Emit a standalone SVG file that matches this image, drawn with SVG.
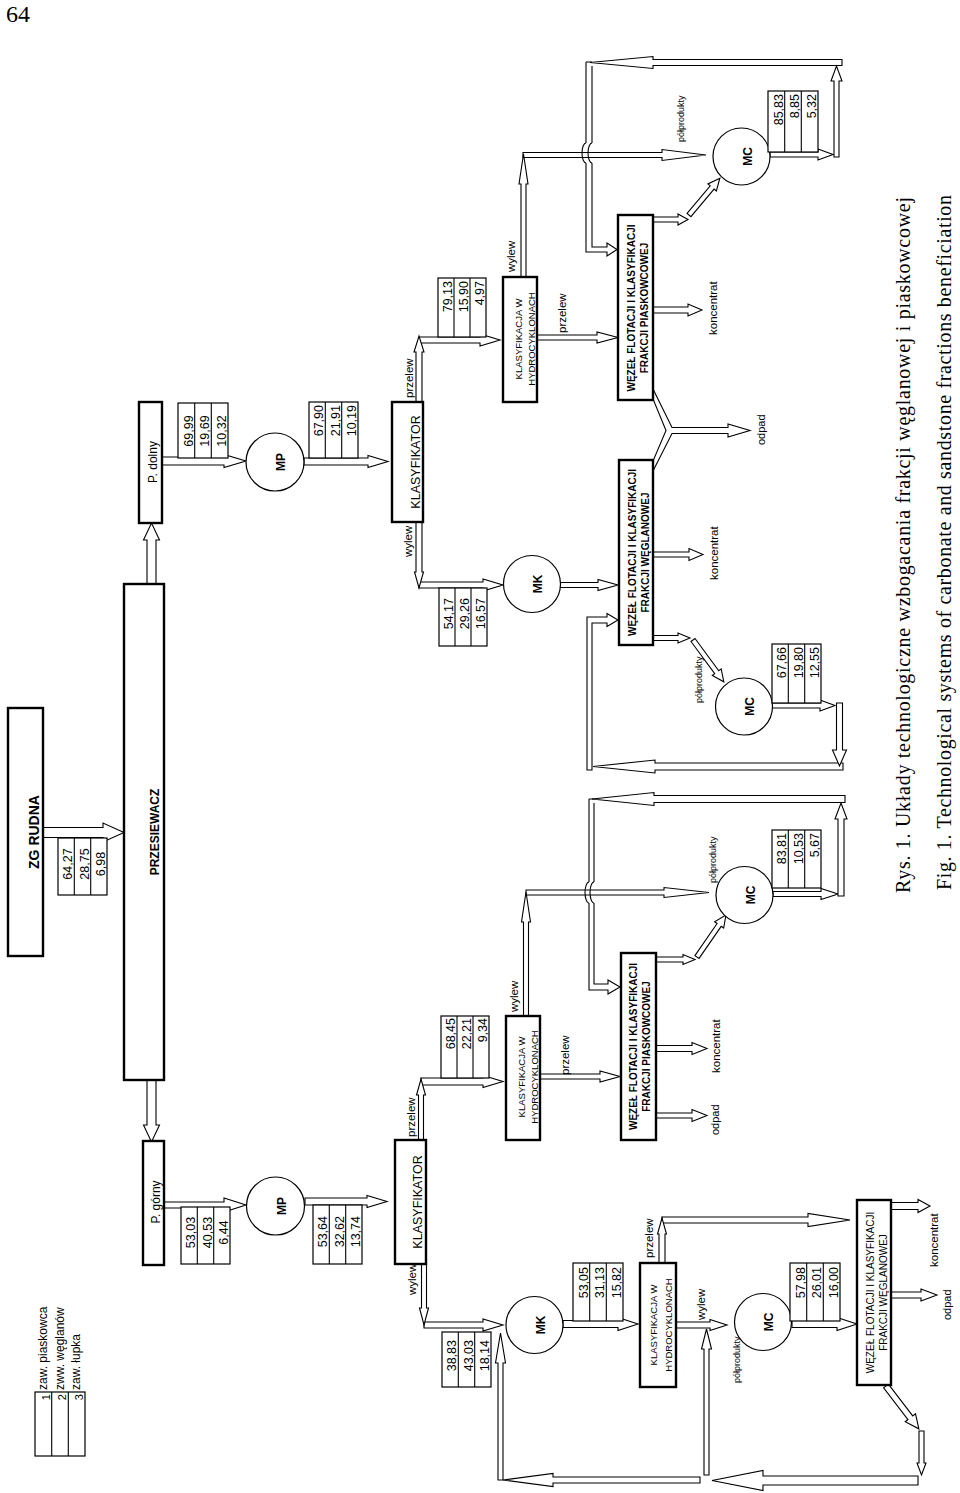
<svg xmlns="http://www.w3.org/2000/svg" width="960" height="1493" viewBox="0 0 960 1493">
<style>
text{font-family:"Liberation Sans",Arial,Helvetica,sans-serif;fill:#000}
.bx{fill:#fff;stroke:#000;stroke-width:2.4}
.tb{fill:#fff;stroke:#000;stroke-width:1.2}
.ci{fill:#fff;stroke:#000;stroke-width:1.2}
.ar{fill:#fff;stroke:#000;stroke-width:1.1;stroke-linejoin:miter}
.pl{fill:none;stroke:#000;stroke-width:1.1}
.num{font-size:12.5px}
.lbl{font-size:11.5px}
.sm{font-size:9px}
.bt{font-size:10px;font-weight:bold}
.rt{font-size:10px}
.hy{font-size:9.5px}
.cl{font-size:12px;font-weight:bold}
.cap{font-family:"Liberation Serif","Times New Roman",serif;font-size:20px}
</style>
<rect width="960" height="1493" fill="#fff"/>
<text x="6" y="22" class="cap" style="font-size:24px">64</text>

<g id="connectors">
<polygon class="ar" points="43,827.5 103,827.5 103,823 124,832.5 103,842 103,837.5 43,837.5"/>
<polygon class="ar" points="147,584 147,540 143.5,540 151.5,523 159.5,540 156,540 156,584"/>
<polygon class="ar" points="147,1080 147,1125 143.5,1125 151.5,1142 159.5,1125 156,1125 156,1080"/>
<polygon class="ar" points="162,457 224,457 224,454.5 246,461 224,467.5 224,465 162,465"/>
<polygon class="ar" points="304,458 368,458 368,455.5 388,461.5 368,467.5 368,465 304,465"/>
<polygon class="ar" points="419,337 480,337 480,334 500,340 480,346 480,343 419,343"/>
<polygon class="ar" points="416,402 416,352 414,352 419,336 424,352 422,352 422,402"/>
<polygon class="ar" points="537,335 597,335 597,332 618,337.5 597,343 597,340 537,340"/>
<polygon class="ar" points="523,152.5 662,152.5 662,149.5 706,155 662,160.5 662,157.5 523,157.5"/>
<polygon class="ar" points="521,277 521,184 519,184 523.5,154 528,184 526,184 526,277"/>
<polygon class="ar" points="770,152 818,152 818,149 833,154.5 818,160 818,157 770,157"/>
<polygon class="ar" points="842,59.5 653,59.5 653,56.5 590,62.5 653,68.5 653,65.5 842,65.5"/>
<polygon class="ar" points="834,157 834,81 831,81 836.5,66 842,81 839,81 839,157"/>
<path class="pl" d="M586,62 H592 M586,62 V143 M586,163 V252 H607 V256 L617,249.5 L607,243 V247 H592 V163 M592,143 V66"/>
<path class="pl" d="M586,143 A4,10 0 0 0 586,163 M592,143 A4,10 0 0 0 592,163"/>
<polygon class="ar" points="653,217 678,217 678,214 688,219.5 678,225 678,222 653,222"/>
<polygon class="ar" transform="translate(689,215) rotate(-50)" points="0,-2.5 36,-2.5 36,-5.5 48,0 36,5.5 36,2.5 0,2.5"/>
<polygon class="ar" points="653,307 688,307 688,304 702,310 688,316 688,313 653,313"/>
<polygon class="ar" points="653,389 672,427.5 728,427.5 728,424 750,430.5 728,437 728,433.5 672,433.5 653,471 653,461 666,430.5 653,399"/>
<polygon class="ar" points="419,582 483,582 483,579 503,585 483,591 483,588 419,588"/>
<polygon class="ar" points="416,522 416,572 414.5,572 419,588 423.5,572 422,572 422,522"/>
<polygon class="ar" points="560,582.5 598,582.5 598,579.5 618,585 598,590.5 598,587.5 560,587.5"/>
<polygon class="ar" points="772,703 820,703 820,700 835,705.5 820,711 820,708 772,708"/>
<polygon class="ar" points="843,763 655,763 655,760 593,766.5 655,773 655,770 843,770"/>
<polygon class="ar" points="836.5,703 836.5,750 832.5,750 839.5,766 846.5,750 842.5,750 842.5,703"/>
<path class="pl" d="M587,770 V617 H607 V613.5 L618,620 L607,626.5 V623 H592 V770 Z"/>
<polygon class="ar" points="653,635.5 678,635.5 678,633 690,638 678,643 678,640.5 653,640.5"/>
<polygon class="ar" transform="translate(693,640) rotate(53.6)" points="0,-2.5 40,-2.5 40,-5.5 52,0 40,5.5 40,2.5 0,2.5"/>
<polygon class="ar" points="653,552 689,552 689,548.5 703,554.5 689,560.5 689,557 653,557"/>
<polygon class="ar" points="164,1202 224,1202 224,1198 246,1205 224,1212 224,1208 164,1208"/>
<polygon class="ar" points="305,1198 367,1198 367,1195.5 387,1201.5 367,1207.5 367,1205 305,1205"/>
<polygon class="ar" points="421,1078 483,1078 483,1075.5 503,1081.5 483,1087.5 483,1085 421,1085"/>
<polygon class="ar" points="418.5,1140 418.5,1095 416.5,1095 421,1079 425.5,1095 423.5,1095 423.5,1140"/>
<polygon class="ar" points="540,1074 600,1074 600,1071 620,1076.5 600,1082 600,1079 540,1079"/>
<polygon class="ar" points="526,890 664,890 664,887.5 709,892.5 664,897.5 664,895 526,895"/>
<polygon class="ar" points="523.5,1016 523.5,922 521.5,922 526,892 530.5,922 528.5,922 528.5,1016"/>
<polygon class="ar" points="773,891.5 821,891.5 821,888.5 838,894 821,899.5 821,896.5 773,896.5"/>
<polygon class="ar" points="845,795.5 654,795.5 654,792.5 592,799 654,805.5 654,802.5 845,802.5"/>
<polygon class="ar" points="838,896 838,819 835,819 841,803 847,819 844,819 844,896"/>
<path class="pl" d="M589,799 H594 M589,799 V882 M589,903 V990 H608 V994 L620,987 L608,980 V984 H594 V903 M594,882 V803"/>
<path class="pl" d="M589,882 A4,10.5 0 0 0 589,903 M594,882 A4,10.5 0 0 0 594,903"/>
<polygon class="ar" points="656,957 683,957 683,954.5 695,959.5 683,964.5 683,962 656,962"/>
<polygon class="ar" transform="translate(697,957) rotate(-55.4)" points="0,-2.5 39,-2.5 39,-5.5 51,0 39,5.5 39,2.5 0,2.5"/>
<polygon class="ar" points="656,1045.5 692,1045.5 692,1042.5 707,1048.5 692,1054.5 692,1051.5 656,1051.5"/>
<polygon class="ar" points="656,1113 692,1113 692,1109.5 707,1115.5 692,1121.5 692,1118 656,1118"/>
<polygon class="ar" points="424,1322 483,1322 483,1319 503,1325 483,1331 483,1328 424,1328"/>
<polygon class="ar" points="421.5,1264 421.5,1308 419.5,1308 424,1325 428.5,1308 426.5,1308 426.5,1264"/>
<polygon class="ar" points="563,1320.5 618,1320.5 618,1317.5 638,1324 618,1330.5 618,1327.5 563,1327.5"/>
<polygon class="ar" points="662,1217 808,1217 808,1213.5 850,1220 808,1226.5 808,1223 662,1223"/>
<polygon class="ar" points="659,1263 659,1234 657.5,1234 662,1218 666.5,1234 665,1234 665,1263"/>
<polygon class="ar" points="676,1322 710,1322 710,1319.5 727,1325 710,1330.5 710,1328 676,1328"/>
<polygon class="ar" points="704,1475 704,1349 701.5,1349 706.5,1329 711.5,1349 709,1349 709,1475"/>
<polygon class="ar" points="792,1320.5 837,1320.5 837,1317.5 857,1324 837,1330.5 837,1327.5 792,1327.5"/>
<polygon class="ar" points="891,1202.5 918,1202.5 918,1199.5 930,1206 918,1212.5 918,1209.5 891,1209.5"/>
<polygon class="ar" points="891,1292 921,1292 921,1289 937,1295 921,1301 921,1298 891,1298"/>
<polygon class="ar" transform="translate(886,1386) rotate(52.5)" points="0,-3 40,-3 40,-6.5 54,0 40,6.5 40,3 0,3"/>
<polygon class="ar" points="919,1431 919,1463 917,1463 921.5,1475 926,1463 924,1463 924,1431"/>
<polygon class="ar" points="918,1476 763,1476 763,1470.5 712,1480.5 763,1490.5 763,1485 918,1485"/>
<polygon class="ar" points="700,1477 553,1477 553,1473.5 503,1480 553,1486.5 553,1483 700,1483"/>
<polygon class="ar" points="498,1480 498,1363 495.5,1363 500.5,1333 505.5,1363 503,1363 503,1480"/>
</g>

<g id="flow-labels" class="lbl">
<text transform="translate(413,398) rotate(-90)">przelew</text>
<text transform="translate(412,557) rotate(-90)">wylew</text>
<text transform="translate(515,272) rotate(-90)">wylew</text>
<text transform="translate(566,333) rotate(-90)">przelew</text>
<text transform="translate(717,335) rotate(-90)">koncentrat</text>
<text transform="translate(765,445) rotate(-90)" style="font-size:11px">odpad</text>
<text transform="translate(718,580) rotate(-90)">koncentrat</text>
<text transform="translate(415,1137) rotate(-90)">przelew</text>
<text transform="translate(518,1012) rotate(-90)">wylew</text>
<text transform="translate(569,1075) rotate(-90)">przelew</text>
<text transform="translate(720,1073) rotate(-90)">koncentrat</text>
<text transform="translate(719,1135) rotate(-90)" style="font-size:11px">odpad</text>
<text transform="translate(416,1295) rotate(-90)">wylew</text>
<text transform="translate(653,1258) rotate(-90)">przelew</text>
<text transform="translate(705,1320) rotate(-90)">wylew</text>
<text transform="translate(938,1267) rotate(-90)">koncentrat</text>
<text transform="translate(951,1320) rotate(-90)" style="font-size:11px">odpad</text>
<text class="sm" transform="translate(683.5,142) rotate(-90)">półprodukty</text>
<text class="sm" transform="translate(702,703) rotate(-90)">półprodukty</text>
<text class="sm" transform="translate(716,883) rotate(-90)">półprodukty</text>
<text class="sm" transform="translate(740,1383) rotate(-90)">półprodukty</text>
</g>

<g id="zg-rudna">
<rect class="bx" x="8" y="708" width="35" height="248"/>
<text transform="translate(38.5,832) rotate(-90)" text-anchor="middle" style="font-size:14px;font-weight:bold">ZG RUDNA</text>
</g>
<g id="przesiewacz">
<rect class="bx" x="124" y="584" width="40" height="496"/>
<text transform="translate(159,832) rotate(-90)" text-anchor="middle" style="font-size:12px;font-weight:bold">PRZESIEWACZ</text>
</g>
<g id="p-dolny">
<rect class="bx" x="139" y="402" width="23" height="121"/>
<text transform="translate(156.5,462) rotate(-90)" text-anchor="middle" style="font-size:12px">P. dolny</text>
</g>
<g id="p-gorny">
<rect class="bx" x="143" y="1141" width="21" height="124"/>
<text transform="translate(160,1202) rotate(-90)" text-anchor="middle" style="font-size:12px">P. górny</text>
</g>
<g id="mp-1"><circle class="ci" cx="275" cy="462" r="29"/><text class="cl" transform="translate(285,462) rotate(-90)" text-anchor="middle">MP</text></g>
<g id="mp-2"><circle class="ci" cx="275.5" cy="1206" r="29"/><text class="cl" transform="translate(285.5,1206) rotate(-90)" text-anchor="middle">MP</text></g>
<g id="klasyfikator-1">
<rect class="bx" x="392" y="402" width="31" height="120"/>
<text transform="translate(420,462) rotate(-90)" text-anchor="middle" style="font-size:12.5px">KLASYFIKATOR</text>
</g>
<g id="klasyfikator-2">
<rect class="bx" x="395" y="1140" width="31" height="124"/>
<text transform="translate(422,1202) rotate(-90)" text-anchor="middle" style="font-size:12.5px">KLASYFIKATOR</text>
</g>
<g id="mk-1"><circle class="ci" cx="532" cy="584" r="28.5"/><text class="cl" transform="translate(542,584) rotate(-90)" text-anchor="middle">MK</text></g>
<g id="mk-2"><circle class="ci" cx="534.5" cy="1325" r="28.5"/><text class="cl" transform="translate(544.5,1325) rotate(-90)" text-anchor="middle">MK</text></g>
<g id="hydro-1">
<rect class="bx" x="503" y="277" width="34" height="125"/>
<text class="hy" transform="translate(521.5,339) rotate(-90)" text-anchor="middle">KLASYFIKACJA W</text>
<text class="hy" transform="translate(535,339) rotate(-90)" text-anchor="middle">HYDROCYKLONACH</text>
</g>
<g id="hydro-2">
<rect class="bx" x="506" y="1016" width="34" height="124"/>
<text class="hy" transform="translate(524.5,1077) rotate(-90)" text-anchor="middle">KLASYFIKACJA W</text>
<text class="hy" transform="translate(538,1077) rotate(-90)" text-anchor="middle">HYDROCYKLONACH</text>
</g>
<g id="hydro-3">
<rect class="bx" x="640" y="1263" width="36" height="124"/>
<text class="hy" transform="translate(657,1325) rotate(-90)" text-anchor="middle">KLASYFIKACJA W</text>
<text class="hy" transform="translate(672,1325) rotate(-90)" text-anchor="middle">HYDROCYKLONACH</text>
</g>
<g id="wezel-piask-1">
<rect class="bx" x="618" y="215" width="35" height="185"/>
<text class="bt" transform="translate(635,308) rotate(-90)" text-anchor="middle">WĘZEŁ FLOTACJI I KLASYFIKACJI</text>
<text class="bt" transform="translate(648,308) rotate(-90)" text-anchor="middle">FRAKCJI PIASKOWCOWEJ</text>
</g>
<g id="wezel-wegl-1">
<rect class="bx" x="619" y="460" width="34" height="185"/>
<text class="bt" transform="translate(635.5,552.5) rotate(-90)" text-anchor="middle">WĘZEŁ FLOTACJI I KLASYFIKACJI</text>
<text class="bt" transform="translate(649,552.5) rotate(-90)" text-anchor="middle">FRAKCJI WĘGLANOWEJ</text>
</g>
<g id="wezel-piask-2">
<rect class="bx" x="621" y="953" width="35" height="187"/>
<text class="bt" transform="translate(637,1046.5) rotate(-90)" text-anchor="middle">WĘZEŁ FLOTACJI I KLASYFIKACJI</text>
<text class="bt" transform="translate(650,1046.5) rotate(-90)" text-anchor="middle">FRAKCJI PIASKOWCOWEJ</text>
</g>
<g id="wezel-wegl-2">
<rect class="bx" x="857" y="1200" width="34" height="185"/>
<text class="rt" transform="translate(873.5,1292.5) rotate(-90)" text-anchor="middle">WĘZEŁ FLOTACJI I KLASYFIKACJI</text>
<text class="rt" transform="translate(887,1292.5) rotate(-90)" text-anchor="middle">FRAKCJI WĘGLANOWEJ</text>
</g>
<g id="mc-1"><circle class="ci" cx="741.5" cy="156.5" r="28.5"/><text class="cl" transform="translate(751.5,156.5) rotate(-90)" text-anchor="middle">MC</text></g>
<g id="mc-2"><circle class="ci" cx="744" cy="706.5" r="28.5"/><text class="cl" transform="translate(754,706.5) rotate(-90)" text-anchor="middle">MC</text></g>
<g id="mc-3"><circle class="ci" cx="744.5" cy="895" r="28.5"/><text class="cl" transform="translate(754.5,895) rotate(-90)" text-anchor="middle">MC</text></g>
<g id="mc-4"><circle class="ci" cx="763" cy="1322" r="28.5"/><text class="cl" transform="translate(773,1322) rotate(-90)" text-anchor="middle">MC</text></g>

<g id="tables" class="num">
<g id="t-zg"><rect class="tb" x="58" y="838" width="49" height="57"/><path class="pl" d="M74.3,838 V895 M90.7,838 V895"/>
<text transform="translate(72.3,864) rotate(-90)" text-anchor="middle">64,27</text><text transform="translate(88.7,864) rotate(-90)" text-anchor="middle">28,75</text><text transform="translate(105,864) rotate(-90)" text-anchor="middle">6,98</text></g>
<g id="t-pd"><rect class="tb" x="178" y="403" width="50" height="55"/><path class="pl" d="M194.7,403 V458 M211.3,403 V458"/>
<text transform="translate(192.7,431) rotate(-90)" text-anchor="middle">69,99</text><text transform="translate(209.3,431) rotate(-90)" text-anchor="middle">19,69</text><text transform="translate(226,431) rotate(-90)" text-anchor="middle">10,32</text></g>
<g id="t-mp1"><rect class="tb" x="309" y="402" width="49" height="56"/><path class="pl" d="M325.3,402 V458 M341.7,402 V458"/>
<text transform="translate(323.3,405) rotate(-90)" text-anchor="end">67,90</text><text transform="translate(339.7,405) rotate(-90)" text-anchor="end">21,91</text><text transform="translate(356,405) rotate(-90)" text-anchor="end">10,19</text></g>
<g id="t-79"><rect class="tb" x="438" y="278" width="48" height="59"/><path class="pl" d="M454,278 V337 M470,278 V337"/>
<text transform="translate(452,281) rotate(-90)" text-anchor="end">79,13</text><text transform="translate(468,281) rotate(-90)" text-anchor="end">15,90</text><text transform="translate(484,281) rotate(-90)" text-anchor="end">4,97</text></g>
<g id="t-54"><rect class="tb" x="439" y="588" width="48" height="58"/><path class="pl" d="M455,588 V646 M471,588 V646"/>
<text transform="translate(453,598) rotate(-90)" text-anchor="end">54,17</text><text transform="translate(469,598) rotate(-90)" text-anchor="end">29,26</text><text transform="translate(485,598) rotate(-90)" text-anchor="end">16,57</text></g>
<g id="t-85"><rect class="tb" x="768" y="91" width="50" height="61"/><path class="pl" d="M784.7,91 V152 M801.3,91 V152"/>
<text transform="translate(782.7,94) rotate(-90)" text-anchor="end">85,83</text><text transform="translate(799.3,94) rotate(-90)" text-anchor="end">8,85</text><text transform="translate(816,94) rotate(-90)" text-anchor="end">5,32</text></g>
<g id="t-67"><rect class="tb" x="772" y="644" width="49" height="59"/><path class="pl" d="M788.3,644 V703 M804.7,644 V703"/>
<text transform="translate(786.3,647) rotate(-90)" text-anchor="end">67,66</text><text transform="translate(802.7,647) rotate(-90)" text-anchor="end">19,80</text><text transform="translate(819,647) rotate(-90)" text-anchor="end">12,55</text></g>
<g id="t-83"><rect class="tb" x="772" y="830" width="49" height="58"/><path class="pl" d="M788.3,830 V888 M804.7,830 V888"/>
<text transform="translate(786.3,833) rotate(-90)" text-anchor="end">83,81</text><text transform="translate(802.7,833) rotate(-90)" text-anchor="end">10,53</text><text transform="translate(819,833) rotate(-90)" text-anchor="end">5,67</text></g>
<g id="t-pg"><rect class="tb" x="181" y="1207" width="49" height="57"/><path class="pl" d="M197.3,1207 V1264 M213.7,1207 V1264"/>
<text transform="translate(195.3,1232.5) rotate(-90)" text-anchor="middle">53,03</text><text transform="translate(211.7,1232.5) rotate(-90)" text-anchor="middle">40,53</text><text transform="translate(228,1232.5) rotate(-90)" text-anchor="middle">6,44</text></g>
<g id="t-mp2"><rect class="tb" x="313" y="1205" width="49" height="59"/><path class="pl" d="M329.3,1205 V1264 M345.7,1205 V1264"/>
<text transform="translate(327.3,1216) rotate(-90)" text-anchor="end">53,64</text><text transform="translate(343.7,1216) rotate(-90)" text-anchor="end">32,62</text><text transform="translate(360,1216) rotate(-90)" text-anchor="end">13,74</text></g>
<g id="t-68"><rect class="tb" x="441" y="1016" width="48" height="62"/><path class="pl" d="M457,1016 V1078 M473,1016 V1078"/>
<text transform="translate(455,1018) rotate(-90)" text-anchor="end">68,45</text><text transform="translate(471,1018) rotate(-90)" text-anchor="end">22,21</text><text transform="translate(487,1018) rotate(-90)" text-anchor="end">9,34</text></g>
<g id="t-38"><rect class="tb" x="442" y="1332" width="49" height="55"/><path class="pl" d="M458.3,1332 V1387 M474.7,1332 V1387"/>
<text transform="translate(456.3,1340) rotate(-90)" text-anchor="end">38,83</text><text transform="translate(472.7,1340) rotate(-90)" text-anchor="end">43,03</text><text transform="translate(489,1340) rotate(-90)" text-anchor="end">18,14</text></g>
<g id="t-53"><rect class="tb" x="573" y="1263" width="50" height="58"/><path class="pl" d="M589.7,1263 V1321 M606.3,1263 V1321"/>
<text transform="translate(587.7,1267) rotate(-90)" text-anchor="end">53,05</text><text transform="translate(604.3,1267) rotate(-90)" text-anchor="end">31,13</text><text transform="translate(621,1267) rotate(-90)" text-anchor="end">15,82</text></g>
<g id="t-57"><rect class="tb" x="790" y="1263" width="50" height="58"/><path class="pl" d="M806.7,1263 V1321 M823.3,1263 V1321"/>
<text transform="translate(804.7,1267) rotate(-90)" text-anchor="end">57,98</text><text transform="translate(821.3,1267) rotate(-90)" text-anchor="end">26,01</text><text transform="translate(838,1267) rotate(-90)" text-anchor="end">16,00</text></g>
</g>

<g id="legend">
<rect class="tb" x="35" y="1392" width="50" height="64"/><path class="pl" d="M51.7,1392 V1456 M68.3,1392 V1456"/>
<text transform="translate(49.7,1394) rotate(-90)" text-anchor="end" style="font-size:11px">1</text>
<text transform="translate(66.3,1394) rotate(-90)" text-anchor="end" style="font-size:11px">2</text>
<text transform="translate(83,1394) rotate(-90)" text-anchor="end" style="font-size:11px">3</text>
<text transform="translate(47,1390) rotate(-90)" style="font-size:12px">zaw. piaskowca</text>
<text transform="translate(63.5,1390) rotate(-90)" style="font-size:12px">zww. węglanów</text>
<text transform="translate(79.5,1390) rotate(-90)" style="font-size:12px">zaw. łupka</text>
</g>

<g id="caption">
<text class="cap" transform="translate(909.5,893) rotate(-90)" textLength="696" lengthAdjust="spacing">Rys. 1. Układy technologiczne wzbogacania frakcji węglanowej i piaskowcowej</text>
<text class="cap" transform="translate(950.5,890) rotate(-90)" textLength="695" lengthAdjust="spacing">Fig. 1. Technological systems of carbonate and sandstone fractions beneficiation</text>
</g>
</svg>
